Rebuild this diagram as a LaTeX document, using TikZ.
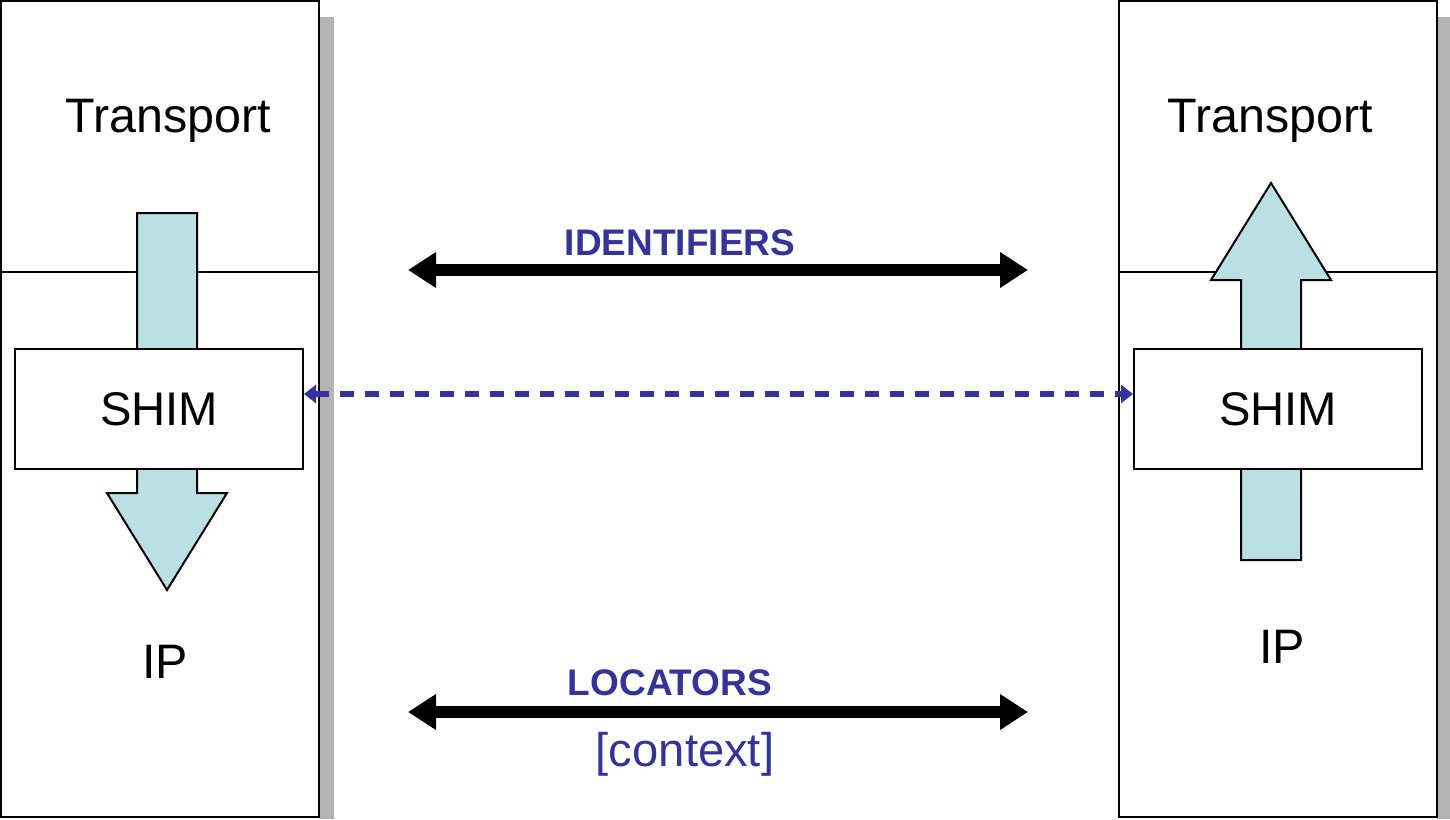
\documentclass[tikz,border=0pt]{standalone}
\usepackage{fontspec}
\setmainfont{Liberation Sans}
\usetikzlibrary{arrows.meta}
\definecolor{navy}{HTML}{333399}
\definecolor{cyanfill}{HTML}{BBE0E3}
\definecolor{shadowgray}{HTML}{B3B3B3}
\begin{document}
\begin{tikzpicture}[x=0.5pt,y=-0.5pt,
  stack/.style={draw=black, line width=1pt, fill=white, minimum width=159pt, minimum height=408pt, inner sep=0pt},
  shimbox/.style={draw=black, line width=1pt, fill=white, minimum width=144pt, minimum height=60pt, inner sep=0pt, font=\fontsize{23.6}{27}\selectfont},
  layertext/.style={font=\fontsize{24.2}{28}\selectfont, inner sep=0pt},
  blocky/.style={draw=black, line width=1pt, fill=cyanfill, line join=miter},
  bigarrow/.style={line width=6pt, {Triangle[length=14pt,width=17pt]}-{Triangle[length=14pt,width=17pt]}},
  dasharrow/.style={navy, line width=2.6pt, dash pattern=on 7pt off 5.5pt, {Triangle[length=6pt,width=9pt]}-{Triangle[length=6pt,width=9pt]}},
  bluelabel/.style={navy, font=\bfseries\fontsize{18.5}{22}\selectfont, inner sep=0pt},
  ctxlabel/.style={navy, font=\fontsize{23.6}{27}\selectfont, inner sep=0pt}]
\useasboundingbox (0,0) rectangle (1450,819);
% shadows
\fill[shadowgray] (319,17) rectangle (334,819);
\fill[shadowgray] (1437,17) rectangle (1450,819);
% stacks
\node[stack] (L) at (160,409) {};
\node[stack] (R) at (1278,409) {};
\draw[line width=1pt] (1,272) -- (319,272);
\draw[line width=1pt] (1119,272) -- (1437,272);
% block arrows
\draw[blocky] (137,213) -- (197,213) -- (197,493) -- (227,493) -- (167,590) -- (107,493) -- (137,493) -- cycle;
\draw[blocky] (1241,560) -- (1301,560) -- (1301,280) -- (1331,280) -- (1271,183) -- (1211,280) -- (1241,280) -- cycle;
% shims
\node[shimbox] (lshim) at (159,409) {SHIM};
\node[shimbox] (rshim) at (1278,409) {SHIM};
% layer labels
\node[layertext] (ltrans) at (168,121) {Transport};
\node[layertext] (rtrans) at (1270,121) {Transport};
\node[layertext] (lip) at (165,662) {IP};
\node[layertext] (rip) at (1282,647) {IP};
% dashed shim link
\draw[dasharrow] ([yshift=7.5pt]lshim.east) -- ([yshift=7.5pt]rshim.west);
% identifiers and locators
\coordinate (idl) at (408,270);
\coordinate (idr) at (1028,270);
\coordinate (lol) at (408,712);
\coordinate (lor) at (1028,712);
\draw[bigarrow] (idl) -- (idr);
\draw[bigarrow] (lol) -- (lor);
\node[bluelabel] (idlab) at (680,243) {IDENTIFIERS};
\node[bluelabel] (lolab) at (670,683) {LOCATORS};
\node[ctxlabel] (ctx) at (685,754) {[context]};
\end{tikzpicture}
\end{document}
